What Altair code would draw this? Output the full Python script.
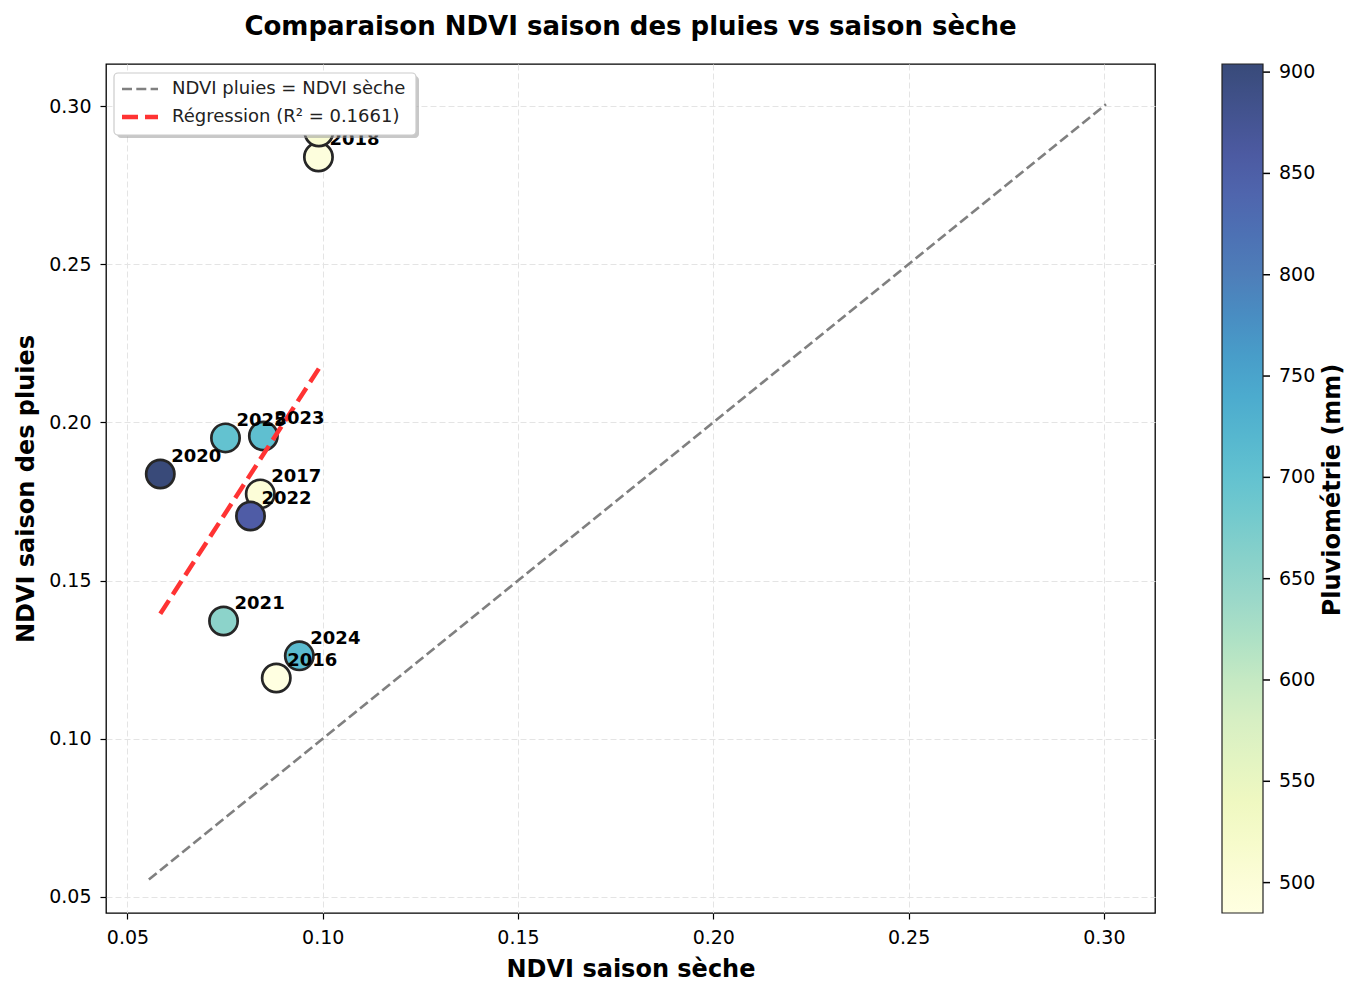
import altair as alt
import pandas as pd
import numpy as np

# ---- data ----
annees = [2016, 2017, 2018, 2019, 2020, 2021, 2022, 2023, 2024, 2025]
ndvi_seche = [0.0881, 0.0840, 0.0989, 0.0990, 0.0584, 0.0746, 0.0815, 0.0848, 0.0940, 0.0751]
ndvi_pluies = [0.1192, 0.1774, 0.2839, 0.2918, 0.1837, 0.1372, 0.1704, 0.1957, 0.1262, 0.1951]
pluvio = [485, 500, 492, 510, 904, 655, 855, 705, 712, 700]

axis_ticks = [0.05, 0.10, 0.15, 0.20, 0.25, 0.30]
cb_ticks = [500, 550, 600, 650, 700, 750, 800, 850, 900]

serie_id = "NDVI pluies = NDVI sèche"
serie_reg = "Régression (R² = 0.1661)"

# YlGnBu colours blended at alpha 0.8 over white
ylgnbu = ["#ffffe1", "#f1f9c1", "#d2edc3", "#99d7c9", "#67c5d0",
          "#4aa7cd", "#4e7eb9", "#515da9", "#394a79"]

# ---- derived tables ----
pmin, pmax = min(pluvio), max(pluvio)
stops = list(np.linspace(pmin, pmax, len(ylgnbu)))

pts = pd.DataFrame({
    "annee": [str(a) for a in annees],
    "seche": ndvi_seche,
    "pluies": ndvi_pluies,
    "pluvio": pluvio,
})

slope, inter = np.polyfit(ndvi_seche, ndvi_pluies, 1)
xmin, xmax = min(ndvi_seche), max(ndvi_seche)
lo = 0.95 * min(min(ndvi_seche), min(ndvi_pluies))
hi = 1.03 * max(max(ndvi_seche), max(ndvi_pluies))
id_line = pd.DataFrame({"seche": [lo, hi], "pluies": [lo, hi]})
reg_line = pd.DataFrame({"seche": [xmin, xmax],
                         "pluies": [slope * xmin + inter, slope * xmax + inter]})

W, H = 1049, 849
FONT = "DejaVu Sans"
GREY = "#808080"
RED = "#ff3333"

xsc = alt.Scale(domain=[0.0445, 0.3131], nice=False, zero=False)
ysc = alt.Scale(domain=[0.0449, 0.3133], nice=False, zero=False)

common_axis = dict(
    values=axis_ticks, format=".2f", grid=True, gridColor="#e4e4e4",
    gridDash=[6, 3], gridWidth=1, domain=False, tickColor="black",
    tickSize=6, tickWidth=1.2, labelFont=FONT, labelFontSize=19,
    labelColor="black", titleFont=FONT, titleFontSize=24,
    titleFontWeight="bold", titleColor="black",
)


def xy():
    return dict(
        x=alt.X("seche:Q", scale=xsc,
                axis=alt.Axis(title="NDVI saison sèche", labelPadding=9,
                              titlePadding=10, **common_axis)),
        y=alt.Y("pluies:Q", scale=ysc,
                axis=alt.Axis(title="NDVI saison des pluies", labelPadding=9,
                              titlePadding=10, **common_axis)),
    )


points = alt.Chart(pts).mark_circle(
    size=800, stroke="#262626", strokeWidth=2.7, opacity=1, fillOpacity=1
).encode(
    fill=alt.Fill(
        "pluvio:Q",
        scale=alt.Scale(domain=stops, range=ylgnbu),
        legend=alt.Legend(
            orient="none", legendX=1116, legendY=0, direction="vertical",
            gradientLength=849, gradientThickness=41, title=None,
            values=cb_ticks, labelFont=FONT, labelFontSize=19,
            labelColor="black", labelOffset=16, gradientStrokeColor="#222222",
            gradientStrokeWidth=1.2, padding=0,
        ),
    ),
    **xy(),
)

id_layer = alt.Chart(id_line).mark_line(
    color=GREY, strokeWidth=2.7, strokeDash=[10, 4.3]
).encode(**xy())

reg_layer = alt.Chart(reg_line).mark_line(
    color=RED, strokeWidth=4.5, strokeDash=[16, 7]
).encode(**xy())

labels = alt.Chart(pts).mark_text(
    align="left", baseline="middle", dx=11, dy=-17, fontSize=18,
    fontWeight="bold", font=FONT, color="black"
).encode(text="annee:N", **xy())

one = pd.DataFrame({"k": [0]})

# manual legend box (top-left, drawn over the marks)
leg_shadow = alt.Chart(one).mark_rect(
    color="#9a9a9a", opacity=0.55, cornerRadius=4
).encode(x=alt.value(11), x2=alt.value(313), y=alt.value(12), y2=alt.value(74))
leg_box = alt.Chart(one).mark_rect(
    fill="white", stroke="#cccccc", strokeWidth=1.2, cornerRadius=4
).encode(x=alt.value(8), x2=alt.value(310), y=alt.value(9), y2=alt.value(71))
leg_sym1 = alt.Chart(one).mark_rule(
    color=GREY, strokeWidth=2.7, strokeDash=[10, 4.3]
).encode(x=alt.value(16), x2=alt.value(52), y=alt.value(25))
leg_sym2 = alt.Chart(one).mark_rule(
    color=RED, strokeWidth=4.5, strokeDash=[16, 7]
).encode(x=alt.value(16), x2=alt.value(52), y=alt.value(53))
leg_txt1 = alt.Chart(pd.DataFrame({"t": [serie_id]})).mark_text(
    align="left", baseline="middle", font=FONT, fontSize=18, color="#222222"
).encode(x=alt.value(66), y=alt.value(25), text="t:N")
leg_txt2 = alt.Chart(pd.DataFrame({"t": [serie_reg]})).mark_text(
    align="left", baseline="middle", font=FONT, fontSize=18, color="#222222"
).encode(x=alt.value(66), y=alt.value(53), text="t:N")

main = alt.layer(points, id_layer, reg_layer, labels, leg_shadow, leg_box,
                 leg_sym1, leg_sym2, leg_txt1, leg_txt2)

cb_tick_layer = alt.Chart(pd.DataFrame({"v": cb_ticks})).mark_rule(
    color="black", strokeWidth=1.5
).encode(
    y=alt.Y("v:Q", scale=alt.Scale(domain=[pmin, pmax], nice=False, zero=False),
            axis=None),
    x=alt.value(1157),
    x2=alt.value(1164),
)

cb_title = alt.Chart(pd.DataFrame({"t": ["Pluviométrie (mm)"]})).mark_text(
    angle=270, fontSize=24, fontWeight="bold", font=FONT, color="black",
    align="center", baseline="middle"
).encode(
    x=alt.value(1227),
    y=alt.value(426),
    text="t:N",
)

chart = alt.layer(main, cb_tick_layer, cb_title).resolve_scale(
    y="independent"
).properties(
    width=W,
    height=H,
    padding={"left": 106, "top": 64, "right": 195, "bottom": 69},
    autosize=alt.AutoSizeParams(type="none"),
    background="white",
    title=alt.TitleParams(
        "Comparaison NDVI saison des pluies vs saison sèche",
        font=FONT, fontSize=26, fontWeight="bold", color="black",
        anchor="middle", offset=24,
    ),
).configure_view(stroke="black", strokeWidth=1.3)

chart.save("out.html", embed_options={"renderer": "svg", "actions": False})
